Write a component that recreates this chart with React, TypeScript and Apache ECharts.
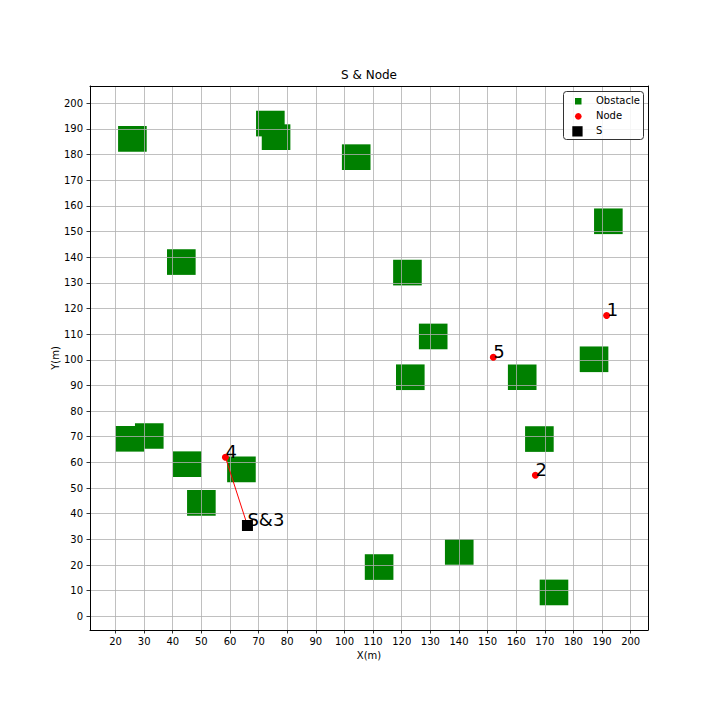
import React, { useEffect, useRef } from "react";
import * as echarts from "echarts";

// Obstacles: lower-left corners [x, y] in metres, each a square of OBSTACLE_SIZE
const OBSTACLE_SIZE = 10;
const obstacles: [number, number][] = [
  [26.8, 65.3],
  [20.0, 64.2],
  [20.9, 181.1],
  [69.1, 187.1],
  [71.1, 181.8],
  [99.1, 174.0],
  [38.0, 133.1],
  [40.1, 54.3],
  [59.0, 52.3],
  [45.0, 39.2],
  [107.1, 14.2],
  [126.0, 104.1],
  [118.0, 88.2],
  [157.1, 88.2],
  [182.2, 95.2],
  [163.1, 64.1],
  [135.1, 20.1],
  [168.2, 4.3],
  [187.2, 149.0],
  [117.0, 129.0],
];

// Nodes: id, x, y
const nodeIds = ["1", "2", "3", "4", "5"];
const nodeX = [191.6, 166.7, 66.1, 58.4, 152.0];
const nodeY = [117.3, 55.0, 35.4, 62.0, 101.0];

// Sink S
const sinkLabel = "S&3";
const sinkXY: [number, number] = [66.1, 35.4];

// Route drawn (node 4 -> S)
const route: [number, number][] = [
  [58.4, 62.0],
  [66.1, 35.4],
];

// Axis ranges and ticks
const xRange: [number, number] = [11.09, 206.05];
const yRange: [number, number] = [-5.34, 206.74];
const xTicks = [20, 30, 40, 50, 60, 70, 80, 90, 100, 110, 120, 130, 140, 150, 160, 170, 180, 190, 200];
const yTicks = [0, 10, 20, 30, 40, 50, 60, 70, 80, 90, 100, 110, 120, 130, 140, 150, 160, 170, 180, 190, 200];

const FONT = "DejaVu Sans";

export default function App() {
  const ref = useRef<HTMLDivElement>(null);
  useEffect(() => {
    if (!ref.current) return;
    const chart = echarts.init(ref.current, null, { renderer: "svg" });
    const gridL = 90, gridT = 86, gridW = 558, gridH = 544;
    const axisCommon = {
      type: "value" as const,
      minInterval: 10,
      maxInterval: 10,
      splitNumber: 20,
    };
    const nodeData = nodeIds.map((id, i) => ({
      name: id,
      value: [nodeX[i], nodeY[i]],
      label: { show: id !== "3", formatter: id },
    }));
    const legendItems = [
      { name: "Obstacle", y: 100 },
      { name: "Node", y: 115 },
      { name: "S", y: 130 },
    ];
    chart.setOption({
      animation: false,
      backgroundColor: "#ffffff",
      textStyle: { fontFamily: FONT },
      grid: { left: gridL, top: gridT, width: gridW, height: gridH, containLabel: false },
      xAxis: [
        {
          ...axisCommon,
          min: xRange[0],
          max: xRange[1],
          position: "bottom",
          axisLine: { show: true, onZero: false, lineStyle: { color: "#000", width: 1 } },
          axisTick: {
            show: true,
            inside: false,
            length: 3.5,
            lineStyle: { color: "#000", width: 0.8 },
            customValues: xTicks,
          },
          axisLabel: {
            show: true,
            color: "#000",
            fontSize: 10,
            fontFamily: FONT,
            margin: 6,
            customValues: xTicks,
          },
          splitLine: { show: true, lineStyle: { color: "#b0b0b0", width: 0.8 } },
        },
        {
          ...axisCommon,
          min: xRange[0],
          max: xRange[1],
          position: "top",
          axisLine: { show: true, onZero: false, lineStyle: { color: "#000", width: 1 } },
          axisTick: { show: false },
          axisLabel: { show: false },
          splitLine: { show: false },
        },
      ],
      yAxis: [
        {
          ...axisCommon,
          min: yRange[0],
          max: yRange[1],
          splitNumber: 21,
          position: "left",
          axisLine: { show: true, onZero: false, lineStyle: { color: "#000", width: 1 } },
          axisTick: {
            show: true,
            inside: false,
            length: 3.5,
            lineStyle: { color: "#000", width: 0.8 },
            customValues: yTicks,
          },
          axisLabel: {
            show: true,
            color: "#000",
            fontSize: 10,
            fontFamily: FONT,
            margin: 7,
            customValues: yTicks,
          },
          splitLine: { show: true, lineStyle: { color: "#b0b0b0", width: 0.8 } },
        },
        {
          ...axisCommon,
          min: yRange[0],
          max: yRange[1],
          splitNumber: 21,
          position: "right",
          axisLine: { show: true, onZero: false, lineStyle: { color: "#000", width: 1 } },
          axisTick: { show: false },
          axisLabel: { show: false },
          splitLine: { show: false },
        },
      ],
      graphic: [
        {
          type: "text",
          x: gridL + gridW / 2,
          y: 81,
          style: {
            text: "S & Node",
            fontFamily: FONT,
            fontSize: 12,
            fill: "#000",
            textAlign: "center",
            textVerticalAlign: "bottom",
          },
        },
        {
          type: "text",
          x: gridL + gridW / 2,
          y: 655,
          style: {
            text: "X(m)",
            fontFamily: FONT,
            fontSize: 10,
            fill: "#000",
            textAlign: "center",
            textVerticalAlign: "middle",
          },
        },
        {
          type: "text",
          x: 55,
          y: gridT + gridH / 2,
          rotation: Math.PI / 2,
          style: {
            text: "Y(m)",
            fontFamily: FONT,
            fontSize: 10,
            fill: "#000",
            textAlign: "center",
            textVerticalAlign: "middle",
          },
        },
        {
          type: "rect",
          z: 100,
          shape: { x: 563.5, y: 91.5, width: 80, height: 48, r: 3 },
          style: { fill: "rgba(255,255,255,0.85)", stroke: "#333", lineWidth: 1 },
        },
        {
          type: "rect",
          z: 101,
          shape: { x: 575, y: 98, width: 6.5, height: 6.5 },
          style: { fill: "#008000" },
        },
        {
          type: "circle",
          z: 101,
          shape: { cx: 578.3, cy: 116.3, r: 3.3 },
          style: { fill: "#ff0000" },
        },
        {
          type: "rect",
          z: 101,
          shape: { x: 572.3, y: 126.2, width: 10.3, height: 10.3 },
          style: { fill: "#000000" },
        },
        ...legendItems.map((it) => ({
          type: "text",
          z: 101,
          x: 596,
          y: it.y,
          style: {
            text: it.name,
            fontFamily: FONT,
            fontSize: 10,
            fill: "#000",
            textAlign: "left",
            textVerticalAlign: "middle",
          },
        })),
      ],
      series: [
        {
          name: "Obstacle",
          type: "custom",
          z: -1,
          xAxisIndex: 0,
          yAxisIndex: 0,
          clip: true,
          data: obstacles,
          renderItem: (params: any, api: any) => {
            const p = api.coord([api.value(0), api.value(1) + OBSTACLE_SIZE]);
            const s = api.size([OBSTACLE_SIZE, OBSTACLE_SIZE]);
            return {
              type: "rect",
              shape: { x: p[0], y: p[1], width: s[0], height: s[1] },
              style: { fill: "#008000" },
            };
          },
        },
        {
          name: "Route",
          type: "line",
          data: route,
          symbol: "none",
          lineStyle: { color: "#ff0000", width: 1 },
          z: 3,
        },
        {
          name: "Node",
          type: "scatter",
          symbol: "circle",
          symbolSize: 7,
          itemStyle: { color: "#ff0000", opacity: 1 },
          data: nodeData,
          z: 4,
          label: {
            position: [3.5, -2.7],
            align: "left",
            verticalAlign: "middle",
            fontSize: 18,
            fontFamily: FONT,
            color: "#000000",
            opacity: 1,
          },
        },
        {
          name: "S",
          type: "scatter",
          symbol: "rect",
          symbolSize: 11,
          itemStyle: { color: "#000000", opacity: 1 },
          data: [{ name: "S", value: sinkXY }],
          z: 5,
          label: {
            show: true,
            formatter: sinkLabel,
            position: [5.5, -0.7],
            align: "left",
            verticalAlign: "middle",
            fontSize: 18,
            fontFamily: FONT,
            color: "#000000",
            opacity: 1,
          },
        },
      ],
    });
    return () => chart.dispose();
  }, []);
  return (
    <div
      ref={ref}
      style={{ position: "fixed", left: 0, top: 0, width: 720, height: 720, background: "#fff" }}
    />
  );
}
